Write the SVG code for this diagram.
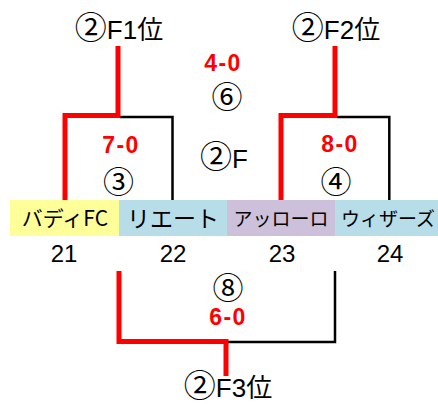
<svg xmlns="http://www.w3.org/2000/svg" width="438" height="404" viewBox="0 0 438 404">
<style>
text{font-family:"Liberation Sans","Noto Sans CJK JP",sans-serif;text-anchor:middle;fill:#000}
.jp{font-family:"Noto Sans CJK JP",sans-serif}
.score{fill:#FF0000;font-weight:bold;font-size:23px;letter-spacing:1.5px}
.circ{font-family:"Noto Sans CJK JP",sans-serif;font-size:31px}
.lbl{font-size:26px}
.c{font-family:"Noto Sans CJK JP",sans-serif;font-size:32px}
.num{font-size:24px}
.red{fill:none;stroke:#FF0000;stroke-width:5}
.blk{fill:none;stroke:#000;stroke-width:2.5}
</style>
<rect width="438" height="404" fill="#fff"/>
<g id="connectors">
<path class="blk" d="M120 117H172.5V200"/>
<path class="red" d="M65 200V115.5H118V46"/>
<path class="blk" d="M337 117H389.3V200"/>
<path class="red" d="M281 200V115.5H335V46"/>
<path class="blk" d="M228 342H335V271"/>
<path class="red" d="M119 271V341.5H226"/>
<path class="red" d="M226 339V376"/>
</g>
<g id="team21">
<rect x="10" y="200" width="109" height="36" fill="#FFFF99"/>
<text class="jp" x="65" y="226" font-size="21">バディFC</text>
<text class="num" x="64" y="262">21</text>
</g>
<g id="team22">
<rect x="119" y="200" width="108" height="36" fill="#B7DDE8"/>
<text class="jp" x="173" y="227" font-size="23">リエート</text>
<text class="num" x="173" y="262">22</text>
</g>
<g id="team23">
<rect x="227" y="200" width="108" height="36" fill="#CCC0DA"/>
<text class="jp" x="281" y="226" font-size="19">アッローロ</text>
<text class="num" x="282" y="262">23</text>
</g>
<g id="team24">
<rect x="335" y="200" width="103" height="36" fill="#B7DDE8"/>
<text class="jp" x="388" y="226" font-size="19">ウィザーズ</text>
<text class="num" x="390" y="262">24</text>
</g>
<g id="match3">
<text class="score" x="121" y="153">7-0</text>
<text class="circ" x="118.5" y="193">③</text>
</g>
<g id="match4">
<text class="score" x="340" y="152">8-0</text>
<text class="circ" x="336" y="193">④</text>
</g>
<g id="match6">
<text class="score" x="223" y="71">4-0</text>
<text class="circ" x="227" y="108">⑥</text>
<text class="lbl" x="224" y="168"><tspan class="c">②</tspan>F</text>
</g>
<g id="match8">
<text class="circ" x="228" y="299">⑧</text>
<text class="score" x="228" y="325">6-0</text>
</g>
<g id="places">
<text class="lbl" x="119" y="38.5"><tspan class="c">②</tspan>F1位</text>
<text class="lbl" x="336" y="38.5"><tspan class="c">②</tspan>F2位</text>
<text class="lbl" x="228" y="397"><tspan class="c">②</tspan>F3位</text>
</g>
</svg>
